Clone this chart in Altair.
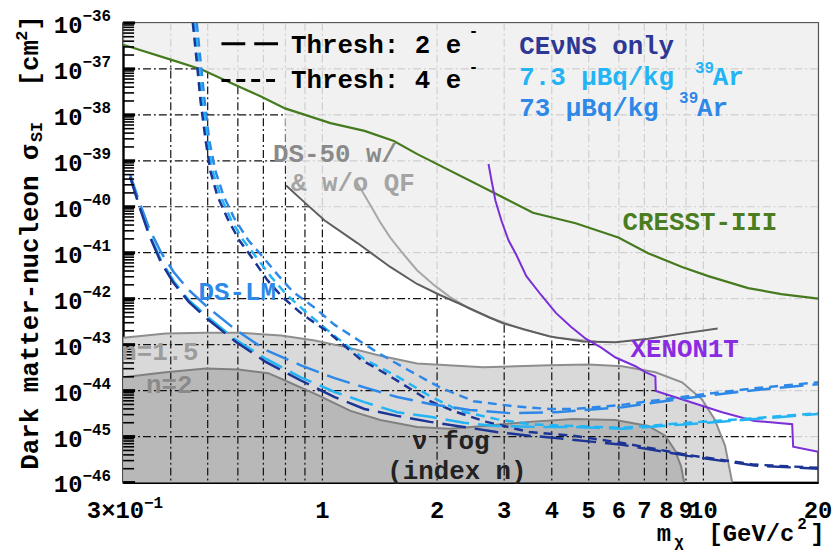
import math
import altair as alt
import pandas as pd

FONT = "Liberation Mono"

# ---------------- data (mass in GeV/c^2, sigma as log10 of cm^2) ----------------
cresst_m = [0.3, 0.40, 0.482, 0.601, 0.690, 0.798, 1.05, 1.29, 1.54, 1.77, 2.81, 3.57, 4.62, 5.98, 7.16, 8.79, 10.3, 13.1, 16.0, 20.0]
cresst_s = [-36.475, -36.80, -37.015, -37.38, -37.60, -37.86, -38.18, -38.35, -38.57, -38.85, -39.69, -40.13, -40.36, -40.67, -41.01, -41.31, -41.51, -41.77, -41.90, -42.00]

ds50_m = [0.803, 0.899, 1.014, 1.236, 1.507, 1.772, 2.034, 2.293, 2.746, 2.99, 3.94, 4.83, 5.88, 7.17, 8.79, 10.9]
ds50_s = [-39.54, -39.91, -40.30, -40.79, -41.31, -41.68, -41.92, -42.11, -42.41, -42.54, -42.82, -42.93, -42.95, -42.87, -42.76, -42.65]

ds50nq_m = [1.222, 1.282, 1.337, 1.419, 1.507, 1.639, 1.772, 1.962, 2.159, 2.435, 2.746, 3.37, 4.10, 5.22]
ds50nq_s = [-39.43, -39.71, -39.97, -40.34, -40.67, -41.05, -41.38, -41.70, -41.96, -42.22, -42.41, -42.67, -42.85, -42.93]

xenon_m = [2.729, 2.779, 2.846, 2.95, 3.08, 3.23, 3.43, 3.75, 4.10, 4.49, 4.91, 5.38, 5.88, 6.63, 7.04, 7.48, 7.50, 9.11, 11.2, 13.6, 17.1, 17.2, 20.0]
xenon_s = [-39.07, -39.43, -39.87, -40.30, -40.73, -41.05, -41.51, -41.92, -42.31, -42.61, -42.87, -43.06, -43.28, -43.47, -43.60, -43.69, -44.01, -44.23, -44.47, -44.66, -44.73, -45.22, -45.33]

fog15_m = [0.3, 0.388, 0.494, 0.602, 0.779, 0.955, 1.164, 1.419, 1.772, 2.648, 3.94, 5.00, 6.13, 7.48, 8.79, 9.91, 10.7, 11.4, 11.9]
fog15_s = [-42.85, -42.76, -42.74, -42.74, -42.80, -42.91, -43.06, -43.24, -43.41, -43.49, -43.45, -43.43, -43.47, -43.60, -43.82, -44.19, -44.62, -45.20, -46.00]

fog2_m = [0.3, 0.388, 0.494, 0.602, 0.721, 0.798, 0.973, 1.185, 1.419, 1.772, 2.159, 2.648, 3.49, 4.55, 5.88, 7.17, 7.94, 8.43, 8.74, 8.90]
fog2_s = [-43.71, -43.60, -43.52, -43.54, -43.62, -43.78, -44.10, -44.44, -44.64, -44.79, -44.83, -44.77, -44.68, -44.62, -44.64, -44.77, -44.98, -45.31, -45.65, -46.00]

# DS-LM projections, threshold 2 e-
navy2_m = [0.313, 0.330, 0.351, 0.377, 0.407, 0.446, 0.502, 0.591, 0.708, 0.878, 1.077, 1.289, 1.571, 1.916, 2.349, 2.863, 3.49, 4.10, 6.13, 9.11, 13.6, 20.0]
navy2_s = [-39.35, -39.97, -40.62, -41.21, -41.66, -42.07, -42.46, -42.93, -43.37, -43.78, -44.14, -44.40, -44.55, -44.68, -44.79, -44.90, -44.98, -45.03, -45.18, -45.42, -45.63, -45.70]
light2_m = [0.313, 0.330, 0.351, 0.377, 0.407, 0.446, 0.502, 0.591, 0.708, 0.878, 1.077, 1.289, 1.571, 1.916, 2.349, 2.863, 3.64, 4.55, 6.13, 9.11, 13.6, 20.0]
light2_s = [-39.35, -39.95, -40.58, -41.16, -41.62, -42.03, -42.41, -42.89, -43.30, -43.71, -44.03, -44.25, -44.47, -44.57, -44.70, -44.77, -44.79, -44.79, -44.83, -44.73, -44.62, -44.51]
mid2_m = [0.313, 0.330, 0.351, 0.377, 0.407, 0.446, 0.502, 0.591, 0.708, 0.878, 1.077, 1.289, 1.571, 1.916, 2.435, 3.10, 4.10, 6.13, 9.11, 13.6, 20.0]
mid2_s = [-39.30, -39.87, -40.47, -40.99, -41.42, -41.81, -42.20, -42.67, -43.11, -43.45, -43.73, -43.93, -44.14, -44.29, -44.42, -44.49, -44.47, -44.36, -44.16, -43.99, -43.86]

# DS-LM projections, threshold 4 e-
navy4_m = [0.457, 0.468, 0.479, 0.494, 0.508, 0.530, 0.563, 0.605, 0.655, 0.716, 0.784, 0.889, 1.033, 1.259, 1.507, 1.916, 2.252, 2.696, 3.49, 4.55, 6.13, 9.11, 13.6, 20.0]
navy4_s = [-36.00, -36.84, -37.71, -38.57, -39.22, -39.76, -40.25, -40.73, -41.12, -41.59, -41.96, -42.35, -42.72, -43.32, -43.69, -44.23, -44.47, -44.68, -44.90, -44.98, -45.14, -45.40, -45.61, -45.68]
light4_m = [0.462, 0.473, 0.485, 0.500, 0.515, 0.540, 0.573, 0.620, 0.671, 0.734, 0.803, 0.905, 1.051, 1.289, 1.571, 1.916, 2.293, 2.863, 3.49, 4.55, 6.13, 9.11, 13.6, 20.0]
light4_s = [-36.00, -36.84, -37.71, -38.57, -39.22, -39.76, -40.25, -40.73, -41.10, -41.53, -41.90, -42.29, -42.74, -43.32, -43.69, -44.12, -44.44, -44.62, -44.73, -44.77, -44.81, -44.70, -44.60, -44.49]
mid4_m = [0.468, 0.479, 0.491, 0.505, 0.524, 0.550, 0.587, 0.639, 0.691, 0.765, 0.837, 0.955, 1.077, 1.236, 1.394, 1.669, 2.034, 2.494, 3.17, 3.94, 4.55, 6.13, 9.11, 13.6, 20.0]
mid4_s = [-36.00, -36.84, -37.71, -38.57, -39.22, -39.76, -40.25, -40.73, -41.05, -41.49, -41.85, -42.20, -42.57, -42.89, -43.17, -43.54, -43.93, -44.23, -44.34, -44.40, -44.40, -44.31, -44.12, -43.95, -43.82]

grid_x = [0.4, 0.5, 0.6, 0.7, 0.8, 0.9, 1, 2, 3, 4, 5, 6, 7, 8, 9, 10]
grid_y = [-37, -38, -39, -40, -41, -42, -43, -44, -45]
y_tick_exp = [-36, -37, -38, -39, -40, -41, -42, -43, -44, -45, -46]
x_tick_m = [1, 2, 3, 4, 5, 6, 7, 8, 9, 10, 20]
x_tick_lab = ["1", "2", "3", "4", "5", "6", "7", "8", "9", "10", "20"]

# ---------------- styling ----------------
NAVY, LIGHT, MID = "#1c3494", "#22b4f5", "#2e88e8"
DASH2, DASH4 = [24, 9], [9, 6]

xs = alt.Scale(type="log", domain=[0.3, 20], nice=False)
ys = alt.Scale(domain=[-46, -36], nice=False, zero=False)
ax = alt.Axis(labels=False, ticks=False, grid=False, title=None, domainColor="#000", domainWidth=2)
X = alt.X("m:Q", scale=xs, axis=ax)
Y = alt.Y("s:Q", scale=ys, axis=ax)


def frame(m, s, **extra):
    d = {"m": m, "s": s, "o": list(range(len(m)))}
    d.update(extra)
    return pd.DataFrame(d)


def line(m, s, color, width=2.0, dash=None):
    kw = dict(color=color, strokeWidth=width, clip=True)
    if dash:
        kw["strokeDash"] = dash
    return alt.Chart(frame(m, s)).mark_line(**kw).encode(x=X, y=Y, order="o:Q")


def label(txt, x, y, size=26, color="#000", align="left", angle=0, baseline="middle"):
    return alt.Chart(pd.DataFrame({"t": [txt]})).mark_text(
        font=FONT, fontWeight="bold", fontSize=size, color=color, align=align,
        baseline=baseline, angle=angle
    ).encode(x=alt.value(x), y=alt.value(y), text="t:N")


layers = []

# neutrino fog
layers.append(alt.Chart(frame(fog15_m, fog15_s, b=[-46] * len(fog15_m)))
              .mark_area(color="#d9d9d9", clip=True).encode(x=X, y=Y, y2="b:Q"))
layers.append(alt.Chart(frame(fog2_m, fog2_s, b=[-46] * len(fog2_m)))
              .mark_area(color="#b8b8b8", clip=True).encode(x=X, y=Y, y2="b:Q"))

# grid
layers.append(alt.Chart(pd.DataFrame({"m": grid_x})).mark_rule(
    color="#111", strokeWidth=1.2, strokeDash=[8, 3, 2, 3]).encode(x=X))
layers.append(alt.Chart(pd.DataFrame({"s": grid_y})).mark_rule(
    color="#111", strokeWidth=1.2, strokeDash=[8, 3, 2, 3]).encode(y=Y))

# excluded region
excl_m = cresst_m[:6] + ds50_m[:12] + xenon_m[10:]
excl_s = cresst_s[:6] + ds50_s[:12] + xenon_s[10:]
layers.append(alt.Chart(frame(excl_m, excl_s, t=[-36] * len(excl_m)))
              .mark_area(color="#efefef", opacity=0.86, clip=True).encode(x=X, y=Y, y2="t:Q"))

# fog boundaries
layers.append(line(fog15_m, fog15_s, "#8e8e8e", 2))
layers.append(line(fog2_m, fog2_s, "#808080", 2))

# existing limits
layers.append(line(ds50nq_m, ds50nq_s, "#a8a8a8", 2))
layers.append(line(ds50_m, ds50_s, "#5e5e5e", 2))
layers.append(line(cresst_m, cresst_s, "#467a1e", 2.2))
layers.append(line(xenon_m, xenon_s, "#7b2fd8", 2))

# DS-LM projections
layers.append(line(mid4_m, mid4_s, MID, 2.5, DASH4))
layers.append(line(light4_m, light4_s, LIGHT, 2.5, DASH4))
layers.append(line(navy4_m, navy4_s, NAVY, 2.5, DASH4))
layers.append(line(mid2_m, mid2_s, MID, 2.5, DASH2))
layers.append(line(light2_m, light2_s, LIGHT, 2.5, DASH2))
layers.append(line(navy2_m, navy2_s, NAVY, 2.5, DASH2))

# y minor / major ticks
minor = [n + math.log10(k) for n in range(-46, -36) for k in range(2, 10)]
layers.append(alt.Chart(pd.DataFrame({"s": minor})).mark_rule(color="#000", strokeWidth=1.6)
              .encode(y=Y, x=alt.value(0), x2=alt.value(11)))
layers.append(alt.Chart(pd.DataFrame({"s": y_tick_exp})).mark_rule(color="#000", strokeWidth=3)
              .encode(y=Y, x=alt.value(0), x2=alt.value(12)))

# y tick labels
ytl = pd.DataFrame({"s": y_tick_exp, "t": ["10"] * len(y_tick_exp),
                    "e": ["\u2212" + str(abs(v)) for v in y_tick_exp]})
layers.append(alt.Chart(ytl).mark_text(font=FONT, fontWeight="bold", fontSize=24, align="right",
                                       baseline="middle", dy=3, color="#000")
              .encode(y=Y, x=alt.value(-41), text="t:N"))
layers.append(alt.Chart(ytl).mark_text(font=FONT, fontWeight="bold", fontSize=16, align="left",
                                       baseline="middle", dy=-7, color="#000")
              .encode(y=Y, x=alt.value(-41), text="e:N"))

# x tick labels
xtl = pd.DataFrame({"m": x_tick_m, "t": x_tick_lab})
layers.append(alt.Chart(xtl).mark_text(font=FONT, fontWeight="bold", fontSize=24, align="center",
                                       baseline="middle", color="#000")
              .encode(x=X, y=alt.value(492), text="t:N"))
layers.append(alt.Chart(pd.DataFrame({"m": [0.3], "t": ["3\u00d710"]})).mark_text(
    font=FONT, fontWeight="bold", fontSize=24, align="right", baseline="middle", dx=21, color="#000")
    .encode(x=X, y=alt.value(492), text="t:N"))
layers.append(alt.Chart(pd.DataFrame({"m": [0.3], "t": ["\u22121"]})).mark_text(
    font=FONT, fontWeight="bold", fontSize=16, align="left", baseline="middle", dx=21, color="#000")
    .encode(x=X, y=alt.value(484), text="t:N"))

# axis titles
layers.append(label("m", 552, 515, 24, align="right"))
layers.append(label("\u03c7", 555, 523, 16))
layers.append(label("[GeV/c", 676, 515, 24, align="right"))
layers.append(label("2", 679, 505, 16))
layers.append(label("]", 692, 515, 24))

layers.append(label("Dark matter-nucleon \u03c3", -94, 450, 26, angle=270))
layers.append(label("SI", -87, 120, 17, angle=270))
layers.append(label("[cm", -94, 64, 26, angle=270))
layers.append(label("2", -102, 18, 17, angle=270))
layers.append(label("]", -94, 8, 26, angle=270))

# legend
one = pd.DataFrame({"a": [0]})
layers.append(alt.Chart(one).mark_rule(color="#000", strokeWidth=3, strokeDash=[24, 9])
              .encode(x=alt.value(99), x2=alt.value(157), y=alt.value(21)))
layers.append(alt.Chart(one).mark_rule(color="#000", strokeWidth=3, strokeDash=[9, 6])
              .encode(x=alt.value(99), x2=alt.value(157), y=alt.value(58)))
layers.append(label("Thresh: 2 e", 169, 22))
layers.append(label("-", 348, 8, 16))
layers.append(label("Thresh: 4 e", 169, 58))
layers.append(label("-", 348, 44, 16))
layers.append(label("CE\u03bdNS only", 399, 23, color="#2d3796"))
layers.append(label("7.3 \u03bcBq/kg", 399, 55, color=LIGHT))
layers.append(label("39", 576, 45, 16, color=LIGHT))
layers.append(label("Ar", 594, 55, color=LIGHT))
layers.append(label("73 \u03bcBq/kg", 399, 86, color=MID))
layers.append(label("39", 560, 76, 16, color=MID))
layers.append(label("Ar", 578, 86, color=MID))

# in-plot labels
layers.append(label("CRESST-III", 503, 201, color="#4a7d1f"))
layers.append(label("XENON1T", 511, 329, color="#8a2be2"))
layers.append(label("DS-50 w/", 151, 132, color="#8a8a8a"))
layers.append(label("& w/o QF", 169, 161, color="#a4a4a4"))
layers.append(label("DS-LM", 76, 271, color=MID))
layers.append(label("n=1.5", -2, 332, color="#9c9c9c"))
layers.append(label("n=2", 23, 365, color="#8a8a8a"))
layers.append(label("\u03bd fog", 291, 421, color="#222"))
layers.append(label("(index n)", 266, 451, color="#222"))

chart = alt.layer(*layers).properties(
    width=700, height=463,
    padding={"left": 116, "top": 13, "right": 14, "bottom": 72},
    autosize=alt.AutoSizeParams(type="none"),
).configure_view(stroke="#555", strokeWidth=2)

chart.save("out.html", embed_options={"renderer": "svg", "actions": False})
